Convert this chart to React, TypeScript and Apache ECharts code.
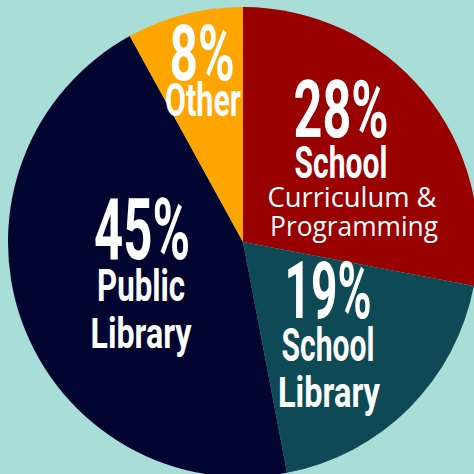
import React, { useEffect, useRef } from "react";
import * as echarts from "echarts";

const categories = ["School Curriculum & Programming", "School Library", "Public Library", "Other"];
const values = [28, 19, 45, 8];
const colors = ["#990000", "#0e4a56", "#010530", "#ffa500"];
// label lines for each slice
const boldLines = [["School"], ["School", "Library"], ["Public", "Library"], ["Other"]];
const regularLines = [["Curriculum &", "Programming"], [], [], []];

// layout (positions/sizes) of label lines: [cx, capCenterY, capHeight, width]
const pctLayout = [
  [341, 109.5, 57, 95],
  [328, 290.5, 57, 87],
  [142, 229.5, 60, 96],
  [202, 53.5, 55, 65],
];
const boldLayout = [
  [[341, 163, 31, 93]],
  [[328, 346, 33, 93], [329, 392, 30, 102]],
  [[141, 286, 31, 88], [141, 333, 30, 101]],
  [[203, 101, 33, 76]],
];
const regularLayout = [
  [[352, 197, 19.5, 169], [354, 226, 19, 168]],
  [],
  [],
  [],
];

const measure = (text: string, font: string) => {
  const c = document.createElement("canvas").getContext("2d")!;
  c.font = font;
  return c.measureText(text).width;
};

const makeText = (
  text: string,
  [cx, cy, cap, w]: number[],
  family: string,
  weight: string,
  capRatio: number
) => {
  const size = Math.round((cap / capRatio) * 10) / 10;
  const font = `${weight} ${size}px ${family}`;
  const mw = measure(text, font) || w;
  const sx = w / mw;
  return {
    type: "text",
    x: cx,
    y: cy,
    scaleX: sx,
    z: 100,
    silent: true,
    style: {
      text,
      fill: "#ffffff",
      fontFamily: family,
      fontWeight: weight,
      fontSize: size,
      textAlign: "center",
      textVerticalAlign: "middle",
    },
  };
};

export default function App() {
  const ref = useRef<HTMLDivElement>(null);
  useEffect(() => {
    document.body.style.margin = "0";
    const chart = echarts.init(ref.current!, undefined, { renderer: "svg" });
    const graphics: any[] = [];
    values.forEach((v, i) => {
      graphics.push(makeText(`${v}%`, pctLayout[i], "Roboto", "bold", 0.711));
      boldLines[i].forEach((t, j) =>
        graphics.push(makeText(t, boldLayout[i][j], "Roboto", "bold", 0.711))
      );
      regularLines[i].forEach((t, j) =>
        graphics.push(makeText(t, regularLayout[i][j], "Open Sans", "normal", 0.714))
      );
    });
    chart.setOption({
      animation: false,
      backgroundColor: "#a9ddd7",
      series: [
        {
          type: "pie",
          center: [243, 242],
          radius: 235,
          startAngle: 90,
          clockwise: true,
          silent: true,
          label: { show: false },
          labelLine: { show: false },
          itemStyle: { borderWidth: 0 },
          data: categories.map((name, i) => ({
            name,
            value: values[i],
            itemStyle: { color: colors[i] },
          })),
        },
      ],
      graphic: { elements: graphics },
    });
    return () => chart.dispose();
  }, []);
  return (
    <div
      ref={ref}
      style={{ position: "fixed", left: 0, top: 0, width: 474, height: 474 }}
    />
  );
}
